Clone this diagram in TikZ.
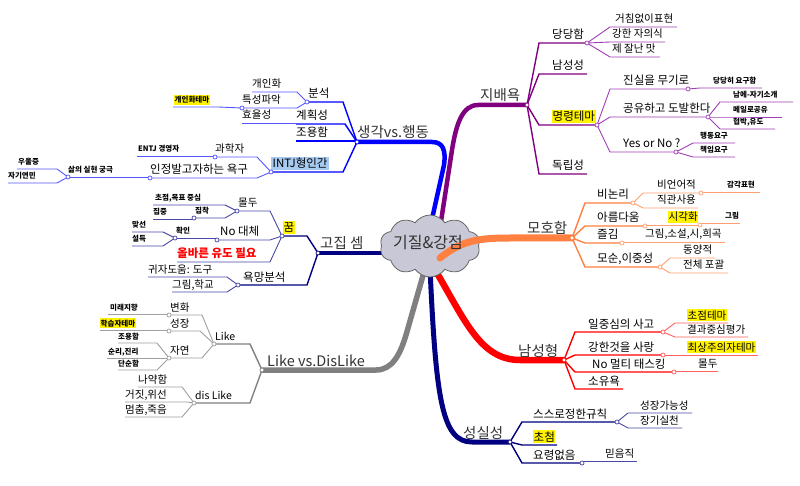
\documentclass[tikz,border=0pt]{standalone}
\usepackage{fontspec}
\setmainfont{Noto Sans CJK KR}
\usetikzlibrary{shapes.symbols}
\definecolor{purp}{HTML}{800080}
\definecolor{purpl}{HTML}{A040B8}
\definecolor{blu}{HTML}{0000FF}
\definecolor{blul}{HTML}{5555FF}
\definecolor{nav}{HTML}{000080}
\definecolor{navl}{HTML}{4848A8}
\definecolor{gry}{HTML}{808080}
\definecolor{gryl}{HTML}{A0A0A0}
\definecolor{org}{HTML}{FF8040}
\definecolor{orgl}{HTML}{FFA070}
\definecolor{rd}{HTML}{FF0000}
\definecolor{rdl}{HTML}{FF6060}
\definecolor{hlblue}{HTML}{A6CAF0}
\definecolor{cloudfill}{HTML}{C8C8D6}
\newcommand\mmn[7]{%
  \coordinate (#1-n) at (#2,#4);
  \coordinate (#1-f) at (#3,#4);
  \node[#6] (#1) at (#5,#4-4) {#7};}
\newcommand\jdot[2]{\node[dot=#1] (#2-o) at (#2) {};}
\tikzset{
  every node/.style={inner sep=0pt, anchor=base west},
  t1/.style={font=\fontsize{14.5}{16}\selectfont, text=black!80},
  t2/.style={font=\fontsize{11.5}{13}\selectfont},
  t3/.style={font=\fontsize{10.5}{12}\selectfont},
  t4/.style={font=\fontsize{7.5}{9}\selectfont\bfseries},
  hly/.style={fill=yellow, inner xsep=0.5pt, inner ysep=1.5pt},
  hlb/.style={fill=hlblue, inner xsep=1.5pt, inner ysep=1.5pt},
  redbold/.style={text=rd, font=\fontsize{11.5}{13}\selectfont\bfseries},
  l1/.style={draw=#1, line width=1.4pt},
  l2/.style={draw=#1, line width=0.9pt},
  dot/.style={circle, draw=#1, fill=white, line width=0.7pt, minimum size=4pt, inner sep=0pt, anchor=center},
  thick1/.style={draw=#1, line width=4.5pt}
}
\begin{document}
\begin{tikzpicture}[x=1pt,y=-1pt]
\fill[white] (0,0) rectangle (800,486);
\useasboundingbox (0,0) rectangle (800,486);
% hubs
\coordinate (JB) at (527,105);
\coordinate (SG) at (357,142);
\coordinate (GJ) at (318,253);
\coordinate (LK) at (262,370);
\coordinate (MH) at (572,238);
\coordinate (NS) at (564,360);
\coordinate (SS) at (510,442);
% thick branches behind the cloud
\draw[thick1=purp] (JB) -- (478,105) .. controls (462,105) and (456,125) .. (452,150) -- (440,228);
\draw[thick1=blu] (SG) -- (432,142) .. controls (443,142) and (446,150) .. (444,165) -- (430,228);
\draw[thick1=nav, line width=4pt] (GJ) -- (392,253);
\draw[thick1=gry, line width=5.5pt] (LK) -- (376,370) .. controls (392,370) and (400,355) .. (406,335) -- (424,272);
\draw[thick1=nav, line width=5pt] (SS) -- (472,442) .. controls (442,442) and (436,400) .. (430,268);
\draw[thick1=rd, line width=6.5pt] (NS) -- (520,360) .. controls (480,360) and (465,320) .. (434,268);
% cloud
\node[cloud, cloud puffs=10, cloud puff arc=110, aspect=1.6, draw=gray!80!black, fill=cloudfill, line width=0.8pt, minimum width=100pt, minimum height=62pt, anchor=center] (C) at (430,246) {};
\draw[draw=org, line width=7pt, line cap=round] (440,258) .. controls (462,240) and (480,238) .. (510,238) -- (MH);
\node[anchor=center, font=\fontsize{16}{18}\selectfont, text=black!80] (center) at (428,243) {기질\&강점};
% main labels
\node[t1] (jb) at (480,101) {지배욕};
\node[t1] (sg) at (357,138) {생각vs.행동};
\node[t1] (gj) at (320,249) {고집 셈};
\node[t1] (lkv) at (267,366) {Like vs.DisLike};
\node[t1] (mh) at (527,234) {모호함};
\node[t1] (nsh) at (518,356) {남성형};
\node[t1] (ss) at (463,438) {성실성};
% 지배욕
\mmn{dd}{539}{587}{43}{552}{t2}{당당함}
\mmn{dda}{610}{677}{27}{615}{t3}{거침없이표현}
\mmn{ddb}{610}{665}{42}{612}{t3}{강한 자의식}
\mmn{ddc}{610}{660}{57}{612}{t3}{제 잘난 맛}
\mmn{nss}{539}{587}{74}{552}{t2}{남성성}
\mmn{mr}{539}{597}{125}{552}{t2,hly}{명령테마}
\mmn{mra}{610}{688}{89}{623}{t2}{진실을 무기로}
\mmn{mrb}{700}{762}{88}{713}{t4}{당당히 요구함}
\mmn{mrc}{610}{708}{117}{623}{t2}{공유하고 도발한다}
\mmn{mrd}{720}{793}{102}{733}{t4}{남에-자기소개}
\mmn{mre}{720}{782}{117}{733}{t4}{메일로공유}
\mmn{mrf}{720}{775}{129}{733}{t4}{협박,유도}
\mmn{mrg}{610}{676}{152}{623}{t2}{Yes or No ?}
\mmn{mrh}{693}{735}{143}{700}{t4}{행동요구}
\mmn{mri}{693}{735}{157}{700}{t4}{책임요구}
\mmn{dr}{539}{587}{174}{552}{t2}{독립성}
\draw[l1=purp] (JB) -- (dd-n) -- (dd-f);
\draw[l2=purpl] (dd-f) -- (dda-n) -- (dda-f);
\draw[l2=purpl] (dd-f) -- (ddb-n) -- (ddb-f);
\draw[l2=purpl] (dd-f) -- (ddc-n) -- (ddc-f);
\draw[l1=purp] (JB) -- (nss-n) -- (nss-f);
\draw[l1=purp] (JB) -- (mr-n) -- (mr-f);
\draw[l2=purpl] (mr-f) -- (mra-n) -- (mra-f);
\draw[l2=purpl] (mra-f) -- (mrb-n) -- (mrb-f);
\draw[l2=purpl] (mr-f) -- (mrc-n) -- (mrc-f);
\draw[l2=purpl] (mrc-f) -- (mrd-n) -- (mrd-f);
\draw[l2=purpl] (mrc-f) -- (mre-n) -- (mre-f);
\draw[l2=purpl] (mrc-f) -- (mrf-n) -- (mrf-f);
\draw[l2=purpl] (mr-f) -- (mrg-n) -- (mrg-f);
\draw[l2=purpl] (mrg-f) -- (mrh-n) -- (mrh-f);
\draw[l2=purpl] (mrg-f) -- (mri-n) -- (mri-f);
\draw[l1=purp] (JB) -- (dr-n) -- (dr-f);
\jdot{purpl}{dd-f}\jdot{purpl}{mr-f}\jdot{purpl}{mra-f}\jdot{purpl}{mrc-f}\jdot{purpl}{mrg-f}\jdot{purp}{JB}
% 생각vs.행동
\mmn{bs}{343}{307}{102}{308}{t2}{분석}
\mmn{bsa}{297}{252}{92}{252}{t3}{개인화}
\mmn{bsb}{297}{242}{108}{242}{t3}{특성파악}
\mmn{bsc}{218}{173}{107}{174}{t4,hly}{개인화테마}
\mmn{gh}{345}{296}{124}{296}{t2}{계획성}
\mmn{gha}{296}{242}{123}{242}{t3}{효율성}
\mmn{jy}{357}{296}{141}{296}{t2}{조용함}
\mmn{it}{343}{271}{172}{271}{t2,hlb}{INTJ형인간}
\mmn{ita}{257}{215}{157}{215}{t3}{과학자}
\mmn{itb}{215}{137}{156}{138}{t4}{ENTJ 경영자}
\mmn{itc}{257}{150}{178}{150}{t2}{인정발고자하는 욕구}
\mmn{itd}{150}{68}{177}{68}{t4}{삶의 실현 궁극}
\mmn{ite}{57}{17}{169}{18}{t4}{우울증}
\mmn{itf}{57}{8}{183}{8}{t4}{자기연민}
\draw[l1=blu] (SG) -- (bs-n) -- (bs-f);
\draw[l2=blul] (bs-f) -- (bsa-n) -- (bsa-f);
\draw[l2=blul] (bs-f) -- (bsb-n) -- (bsb-f);
\draw[l2=blul] (bsb-f) -- (bsc-n) -- (bsc-f);
\draw[l1=blu] (SG) -- (gh-n) -- (gh-f);
\draw[l2=blul] (gha-n) -- (gha-f);
\draw[l1=blu] (SG) -- (jy-n) -- (jy-f);
\draw[l1=blu] (SG) -- (it-n) -- (it-f);
\draw[l2=blul] (it-f) -- (ita-n) -- (ita-f);
\draw[l2=blul] (itb-n) -- (itb-f);
\draw[l2=blul] (it-f) -- (itc-n) -- (itc-f);
\draw[l2=blul] (itd-n) -- (itd-f);
\draw[l2=blul] (itd-f) -- (ite-n) -- (ite-f);
\draw[l2=blul] (itd-f) -- (itf-n) -- (itf-f);
\jdot{blul}{bs-f}\jdot{blul}{bsb-f}\jdot{blul}{it-f}\jdot{blul}{ita-f}\jdot{blul}{itc-f}\jdot{blul}{itd-f}\jdot{blu}{SG}
% 고집 셈
\mmn{km}{307}{282}{236}{283}{t2,hly}{꿈}
\mmn{kma}{270}{237}{211}{238}{t3}{몰두}
\mmn{kmb}{225}{153}{205}{155}{t4}{초점,목표 중심}
\mmn{kmc}{225}{194}{218}{195}{t4}{집착}
\mmn{kmd}{194}{153}{219}{153}{t4}{집중}
\mmn{kme}{270}{217}{240}{220}{t2}{No 대체}
\mmn{kmf}{217}{175}{238}{176}{t4}{확인}
\mmn{kmg}{163}{132}{232}{132}{t4}{맞선}
\mmn{kmh}{163}{132}{246}{132}{t4}{설득}
\mmn{kmi}{270}{177}{262}{177}{redbold}{올바른 유도 필요}
\mmn{ym}{307}{238}{285}{243}{t2}{욕망분석}
\mmn{yma}{227}{148}{277}{148}{t3}{귀자도움: 도구}
\mmn{ymb}{227}{172}{292}{172}{t3}{그림,학교}
\draw[l1=nav] (GJ) -- (km-n) -- (km-f);
\draw[l2=navl] (km-f) -- (kma-n) -- (kma-f);
\draw[l2=navl] (kma-f) -- (kmb-n) -- (kmb-f);
\draw[l2=navl] (kma-f) -- (kmc-n) -- (kmc-f);
\draw[l2=navl] (kmd-n) -- (kmd-f);
\draw[l2=navl] (km-f) -- (kme-n) -- (kme-f);
\draw[l2=navl] (kmf-n) -- (kmf-f);
\draw[l2=navl] (kmf-f) -- (kmg-n) -- (kmg-f);
\draw[l2=navl] (kmf-f) -- (kmh-n) -- (kmh-f);
\draw[l2=navl] (km-f) -- (kmi-n) -- (kmi-f);
\draw[l1=nav] (GJ) -- (ym-n) -- (ym-f);
\draw[l2=navl] (ym-f) -- (yma-n) -- (yma-f);
\draw[l2=navl] (ym-f) -- (ymb-n) -- (ymb-f);
\jdot{navl}{km-f}\jdot{navl}{kma-f}\jdot{navl}{kmc-f}\jdot{navl}{kme-f}\jdot{navl}{kmf-f}\jdot{navl}{ym-f}\jdot{nav}{GJ}
% Like vs.DisLike
\mmn{lk}{250}{214}{344}{215}{t3}{Like}
\mmn{lka}{202}{169}{315}{170}{t3}{변화}
\mmn{lkb}{169}{108}{314}{110}{t4}{미래지향}
\mmn{lkc}{200}{169}{331}{170}{t3}{성장}
\mmn{lkd}{169}{100}{330}{100}{t4,hly}{학습자테마}
\mmn{lke}{202}{169}{358}{170}{t3}{자연}
\mmn{lkf}{157}{118}{343}{118}{t4}{조용함}
\mmn{lkg}{169}{107}{358}{108}{t4}{순리,진리}
\mmn{lkh}{157}{118}{370}{118}{t4}{단순함}
\mmn{dl}{250}{194}{403}{195}{t3}{dis Like}
\mmn{dla}{182}{138}{387}{138}{t3}{나약함}
\mmn{dlb}{187}{125}{402}{125}{t3}{거짓,위선}
\mmn{dlc}{182}{125}{417}{125}{t3}{멈춤,죽음}
\draw[l1=gry] (LK) -- (lk-n) -- (lk-f);
\draw[l2=gryl] (lk-f) -- (lka-n) -- (lka-f);
\draw[l2=gryl] (lkb-n) -- (lkb-f);
\draw[l2=gryl] (lk-f) -- (lkc-n) -- (lkc-f);
\draw[l2=gryl] (lkd-n) -- (lkd-f);
\draw[l2=gryl] (lk-f) -- (lke-n) -- (lke-f);
\draw[l2=gryl] (lke-f) -- (lkf-n) -- (lkf-f);
\draw[l2=gryl] (lkg-n) -- (lkg-f);
\draw[l2=gryl] (lke-f) -- (lkh-n) -- (lkh-f);
\draw[l1=gry] (LK) -- (dl-n) -- (dl-f);
\draw[l2=gryl] (dl-f) -- (dla-n) -- (dla-f);
\draw[l2=gryl] (dl-f) -- (dlb-n) -- (dlb-f);
\draw[l2=gryl] (dl-f) -- (dlc-n) -- (dlc-f);
\jdot{gryl}{lk-f}\jdot{gryl}{lka-f}\jdot{gryl}{lkc-f}\jdot{gryl}{lke-f}\jdot{gryl}{dl-f}\jdot{gry}{LK}
% 모호함
\mmn{bn}{585}{633}{203}{597}{t2}{비논리}
\mmn{bna}{643}{701}{193}{657}{t3}{비언어적}
\mmn{bnb}{701}{760}{192}{727}{t4}{감각표현}
\mmn{bnc}{643}{698}{208}{657}{t3}{직관사용}
\mmn{ar}{585}{645}{226}{597}{t2}{아름다움}
\mmn{ara}{645}{700}{225}{668}{t3,hly}{시각화}
\mmn{arb}{700}{740}{223}{725}{t4}{그림}
\mmn{jg}{585}{622}{243}{597}{t2}{즐김}
\mmn{jga}{622}{725}{242}{645}{t3}{그림,소설,시,희곡}
\mmn{ms}{585}{660}{267}{597}{t2}{모순,이중성}
\mmn{msa}{670}{715}{258}{683}{t3}{동양적}
\mmn{msb}{670}{728}{273}{683}{t3}{전체 포괄}
\draw[l1=org] (MH) -- (bn-n) -- (bn-f);
\draw[l2=orgl] (bn-f) -- (bna-n) -- (bna-f);
\draw[l2=orgl] (bnb-n) -- (bnb-f);
\draw[l2=orgl] (bn-f) -- (bnc-n) -- (bnc-f);
\draw[l1=org] (MH) -- (ar-n) -- (ar-f);
\draw[l2=orgl] (ara-n) -- (ara-f);
\draw[l2=orgl] (arb-n) -- (arb-f);
\draw[l1=org] (MH) -- (jg-n) -- (jg-f);
\draw[l2=orgl] (jga-n) -- (jga-f);
\draw[l1=org] (MH) -- (ms-n) -- (ms-f);
\draw[l2=orgl] (ms-f) -- (msa-n) -- (msa-f);
\draw[l2=orgl] (ms-f) -- (msb-n) -- (msb-f);
\jdot{orgl}{bn-f}\jdot{orgl}{bna-f}\jdot{orgl}{ar-f}\jdot{orgl}{ara-f}\jdot{orgl}{jg-f}\jdot{orgl}{ms-f}\jdot{org}{MH}
% 남성형
\mmn{ij}{575}{663}{332}{588}{t2}{일중심의 사고}
\mmn{ija}{675}{728}{323}{687}{t3,hly}{초점테마}
\mmn{ijb}{675}{748}{337}{687}{t3}{결과중심평가}
\mmn{gs}{575}{663}{355}{588}{t2}{강한것을 사랑}
\mmn{gsa}{663}{758}{355}{687}{t3,hly}{최상주의자테마}
\mmn{nm}{575}{674}{372}{592}{t2}{No 멀티 태스킹}
\mmn{nma}{674}{718}{371}{698}{t3}{몰두}
\mmn{sy}{575}{623}{389}{588}{t2}{소유욕}
\draw[l1=rd] (NS) -- (ij-n) -- (ij-f);
\draw[l2=rdl] (ij-f) -- (ija-n) -- (ija-f);
\draw[l2=rdl] (ij-f) -- (ijb-n) -- (ijb-f);
\draw[l1=rd] (NS) -- (gs-n) -- (gs-f);
\draw[l2=rdl] (gsa-n) -- (gsa-f);
\draw[l1=rd] (NS) -- (nm-n) -- (nm-f);
\draw[l2=rdl] (nma-n) -- (nma-f);
\draw[l1=rd] (NS) -- (sy-n) -- (sy-f);
\jdot{rdl}{ij-f}\jdot{rdl}{gs-f}\jdot{rdl}{nm-f}\jdot{rd}{NS}
% 성실성
\mmn{sr}{522}{617}{422}{533}{t2}{스스로정한규칙}
\mmn{sra}{628}{692}{413}{640}{t3}{성장가능성}
\mmn{srb}{628}{682}{428}{640}{t3}{장기실천}
\mmn{cc}{522}{557}{445}{533}{t2,hly}{초첨}
\mmn{yr}{522}{582}{463}{533}{t2}{요령없음}
\mmn{yra}{582}{637}{461}{605}{t3}{믿음직}
\draw[l1=nav] (SS) -- (sr-n) -- (sr-f);
\draw[l2=navl] (sr-f) -- (sra-n) -- (sra-f);
\draw[l2=navl] (sr-f) -- (srb-n) -- (srb-f);
\draw[l1=nav] (SS) -- (cc-n) -- (cc-f);
\draw[l1=nav] (SS) -- (yr-n) -- (yr-f);
\draw[l2=navl] (yra-n) -- (yra-f);
\jdot{navl}{sr-f}\jdot{navl}{yr-f}\jdot{nav}{SS}
\end{tikzpicture}
\end{document}
